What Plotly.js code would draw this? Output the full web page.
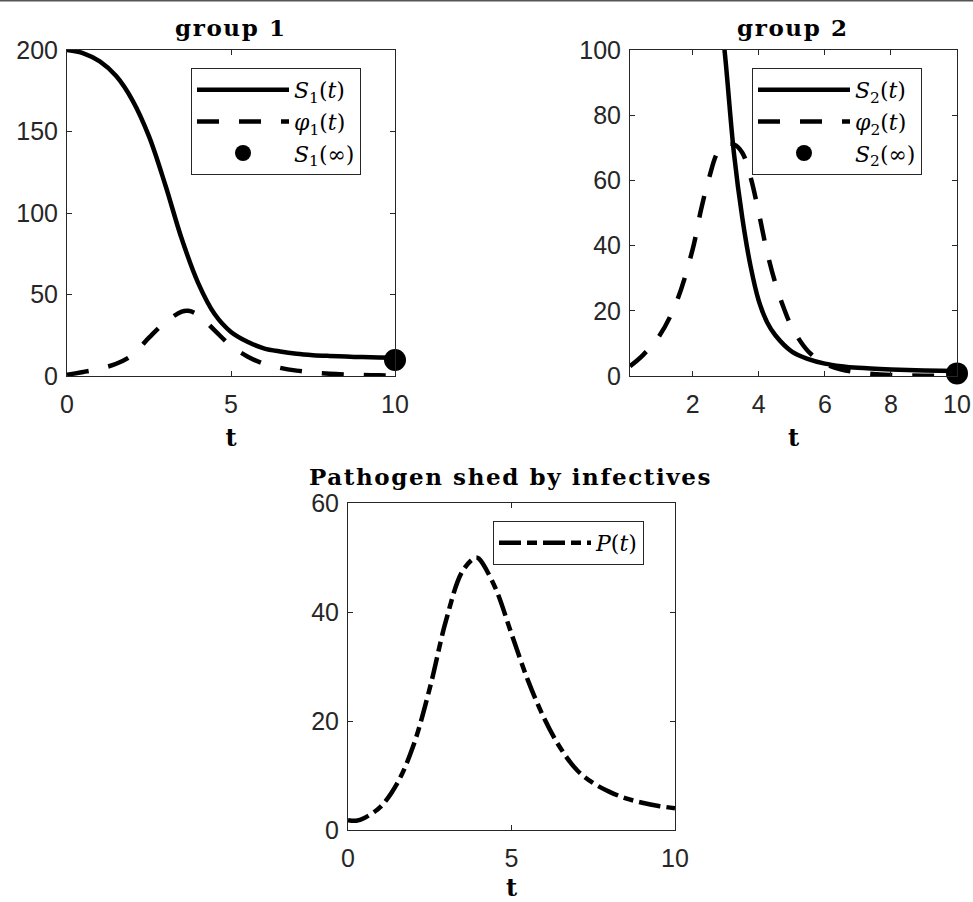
<!DOCTYPE html>
<html>
<head>
<meta charset="utf-8">
<script src="https://cdn.plot.ly/plotly-3.0.1.min.js"></script>
<style>
html,body{margin:0;padding:0;background:#fff;}
#chart{width:973px;height:902px;}
.annotation-text{letter-spacing:1.6px;}
</style>
</head>
<body>
<div id="chart"></div>
<script>
// ---- Data ----
// group 1
const t1 = [0,0.5,1,1.5,2,2.5,3,3.5,4,4.5,5,5.5,6,6.5,7,7.5,8,8.5,9,9.5,10];
const S1 = [200,198,193,184,169,147,117,84,57,38,27,21,17,15,13.6,12.8,12.3,11.9,11.6,11.4,11.2];
const tPhi1 = [0,0.5,1,1.5,2,2.5,3,3.5,3.7,4,4.5,5,5.5,6,6.5,7,7.5,8,8.5,9,9.5,10];
const phi1 = [0.8,2.5,4.5,7.5,13,23.5,33,39.5,40,37.5,28,18.5,12,7.5,5,3.3,2.2,1.4,0.9,0.6,0.4,0.3];
const S1inf_t = [10];
const S1inf = [9.8];

// group 2
const tS2 = [2.5,2.75,3,3.25,3.5,3.75,4,4.25,4.5,5,5.5,6,6.5,7,8,9,10];
const S2 = [150,122,96,68,48.5,33.7,23,16.5,12.5,7.5,5.2,3.8,3.0,2.5,2.0,1.7,1.5];
const tPhi2 = [0.1,0.5,1,1.5,2,2.25,2.5,2.75,3,3.25,3.5,3.75,4,4.25,4.5,4.75,5,5.5,6,6.5,7,8,9,10];
const phi2 = [3,6.5,12.5,22.5,39,51,61,68.5,71,71,68.5,61,50,38,28.5,21,15,7.5,3.8,2,1.1,0.3,0.1,0.05];
const S2inf_t = [10];
const S2inf = [0.8];

// pathogen
const tP = [0,0.25,0.5,1,1.5,2,2.5,3,3.5,3.9,4,4.5,5,5.5,6,6.5,7,7.5,8,8.5,9,9.5,10];
const P = [1.8,1.7,2.2,4.3,8.5,15.5,26,38.5,47.5,50,49.8,44.5,36,27.5,20.5,15,11,8.6,7,5.8,5,4.4,4.0];

// tick labels
const x1Ticks = [0,5,10];
const y1Ticks = [0,50,100,150,200];
const x2Ticks = [2,4,6,8,10];
const y2Ticks = [0,20,40,60,80,100];
const x3Ticks = [0,5,10];
const y3Ticks = [0,20,40,60];

// legend labels
const names1 = ['<i>S</i><sub>1</sub>(<i>t</i>)','<i>φ</i><sub>1</sub>(<i>t</i>)','<i>S</i><sub>1</sub>(∞)'];
const names2 = ['<i>S</i><sub>2</sub>(<i>t</i>)','<i>φ</i><sub>2</sub>(<i>t</i>)','<i>S</i><sub>2</sub>(∞)'];
const name3 = '<i>P</i>(<i>t</i>)';
const titles = ['<b>group 1</b>','<b>group 2</b>','<b>Pathogen shed by infectives</b>'];

// ---- Styles ----
const LW = 4.5;
const DASH = '22px,20px';
const DASHDOT = '22px,6px,10px,6px';
const axCol = '#262626';

const traces = [
  {x:t1, y:S1, mode:'lines', name:names1[0], line:{color:'#000', width:LW, shape:'spline', smoothing:1}, xaxis:'x', yaxis:'y', legend:'legend'},
  {x:tPhi1, y:phi1, mode:'lines', name:names1[1], line:{color:'#000', width:LW, dash:DASH, shape:'spline', smoothing:1}, xaxis:'x', yaxis:'y', legend:'legend'},
  {x:S1inf_t, y:S1inf, mode:'markers', name:names1[2], marker:{color:'#000', size:22}, cliponaxis:false, xaxis:'x', yaxis:'y', legend:'legend'},

  {x:tS2, y:S2, mode:'lines', name:names2[0], line:{color:'#000', width:LW, shape:'spline', smoothing:1}, xaxis:'x2', yaxis:'y2', legend:'legend2'},
  {x:tPhi2, y:phi2, mode:'lines', name:names2[1], line:{color:'#000', width:LW, dash:DASH, shape:'spline', smoothing:1}, xaxis:'x2', yaxis:'y2', legend:'legend2'},
  {x:S2inf_t, y:S2inf, mode:'markers', name:names2[2], marker:{color:'#000', size:22}, cliponaxis:false, xaxis:'x2', yaxis:'y2', legend:'legend2'},

  {x:tP, y:P, mode:'lines', name:name3, line:{color:'#000', width:LW, dash:DASHDOT, shape:'spline', smoothing:1}, xaxis:'x3', yaxis:'y3', legend:'legend3'}
];

const W = 973, H = 902;
function dx(a,b){return [a/W, b/W];}
function dy(top,bottom){return [1-bottom/H, 1-top/H];}

function axis(domain, range, ticks, anchor, extra){
  return Object.assign({
    domain: domain, range: range, tickvals: ticks, ticktext: ticks.map(String),
    anchor: anchor, showline:true, mirror:'ticks', linecolor:axCol, linewidth:1,
    ticks:'inside', ticklen:5, tickwidth:1, tickcolor:axCol,
    showgrid:false, zeroline:false, fixedrange:true,
    tickfont:{family:'Liberation Sans, Arial, sans-serif', size:25, color:axCol}
  }, extra||{});
}
const xTitle = {text:'<b>t</b>', font:{family:'DejaVu Serif, serif', size:24, color:'#000'}, standoff:12};
const xExtra = {title:xTitle, ticklabelstandoff:6};
const yExtra = {ticklabelstandoff:3};

function legendCfg(x,y){
  return {x:x/W, y:1-y/H, xanchor:'left', yanchor:'top', bgcolor:'#fff', bordercolor:axCol, borderwidth:1,
          font:{family:'DejaVu Serif, serif', size:22, color:'#000'}, tracegroupgap:0, itemwidth:92};
}

const titleFont = {family:'DejaVu Serif, serif', size:23, color:'#000'};

const layout = {
  width:W, height:H, autosize:false,
  margin:{l:0,r:0,t:0,b:0,pad:0},
  paper_bgcolor:'#fff', plot_bgcolor:'#fff',
  showlegend:true,
  xaxis: axis(dx(67,395), [0,10], x1Ticks, 'y', xExtra),
  yaxis: axis(dy(50,376), [0,200], y1Ticks, 'x', yExtra),
  xaxis2: axis(dx(630,957), [0.1,10], x2Ticks, 'y2', xExtra),
  yaxis2: axis(dy(50,376), [0,100], y2Ticks, 'x2', yExtra),
  xaxis3: axis(dx(348,675), [0,10], x3Ticks, 'y3', xExtra),
  yaxis3: axis(dy(503,830), [0,60], y3Ticks, 'x3', yExtra),
  legend: legendCfg(191,68),
  legend2: legendCfg(752,68),
  legend3: legendCfg(493,521),
  annotations: [
    {text:titles[0], x:231/W, y:1-28/H, xref:'paper', yref:'paper', xanchor:'center', yanchor:'middle', showarrow:false, font:titleFont},
    {text:titles[1], x:793/W, y:1-28/H, xref:'paper', yref:'paper', xanchor:'center', yanchor:'middle', showarrow:false, font:titleFont},
    {text:titles[2], x:511/W, y:1-476/H, xref:'paper', yref:'paper', xanchor:'center', yanchor:'middle', showarrow:false, font:titleFont}
  ],
  shapes: [
    {type:'line', xref:'paper', yref:'paper', x0:0, x1:1, y0:1, y1:1, line:{color:'#555', width:3}}
  ]
};

Plotly.newPlot('chart', traces, layout, {displayModeBar:false, staticPlot:true});
</script>
</body>
</html>
